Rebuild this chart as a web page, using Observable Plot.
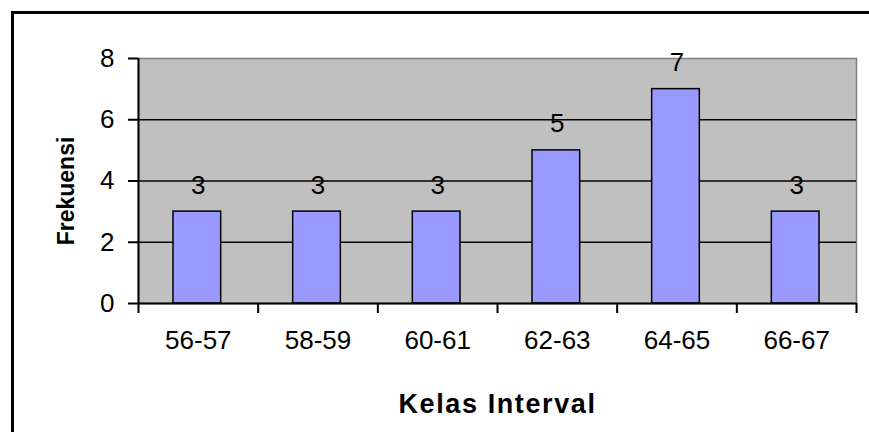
<!DOCTYPE html>
<html>
<head>
<meta charset="utf-8">
<script src="https://cdn.jsdelivr.net/npm/d3@7"></script>
<script src="https://cdn.jsdelivr.net/npm/@observablehq/plot@0.6"></script>
<style>
  html, body { margin: 0; padding: 0; background: #fff; }
  #wrap { position: relative; width: 869px; height: 432px; overflow: hidden; }
  #wrap svg { position: absolute; left: 0; top: 0; }
  #border { position: absolute; left: 11px; top: 11px; width: 900px; height: 500px;
            border-left: 3px solid #000; border-top: 3px solid #000; pointer-events: none; }
</style>
</head>
<body>
<div id="wrap"><div id="border"></div></div>
<script>
const categories = ["56-57", "58-59", "60-61", "62-63", "64-65", "66-67"];
const frequencies = [3, 3, 3, 5, 7, 3];
const yTicks = [0, 2, 4, 6, 8];
const xTitle = "Kelas Interval";
const yTitle = "Frekuensi";

const data = categories.map((c, i) => ({ label: c, i, freq: frequencies[i] }));
const boundaries = d3.range(categories.length + 1);
const font = "Liberation Sans, Arial, sans-serif";

const chart = Plot.plot({
  width: 869,
  height: 432,
  marginLeft: 138,
  marginRight: 13,
  marginTop: 58,
  marginBottom: 129,
  style: { fontFamily: font, background: "transparent", color: "#000" },
  x: { domain: [0, categories.length], axis: null },
  y: { domain: [0, 8], axis: null },
  marks: [
    Plot.frame({ fill: "#c0c0c0", stroke: "#808080", strokeWidth: 1.5 }),
    Plot.ruleY(yTicks.filter(v => v > 0 && v < 8), { stroke: "#000", strokeWidth: 1.5 }),
    Plot.rectY(data, {
      x1: d => d.i, x2: d => d.i + 1, y: "freq",
      insetLeft: 35, insetRight: 37,
      fill: "#9999ff", stroke: "#000", strokeWidth: 1.5
    }),
    Plot.ruleX([0], { stroke: "#000", strokeWidth: 2 }),
    Plot.ruleY([0], { stroke: "#000", strokeWidth: 2 }),
    Plot.axisY(yTicks, {
      anchor: "left", tickSize: 10, tickPadding: 14, strokeWidth: 2,
      fontSize: 26, label: null, color: "#000"
    }),
    Plot.axisX(boundaries, {
      anchor: "bottom", tickSize: 10, strokeWidth: 2, tickFormat: () => "", label: null
    }),
    Plot.text(data, {
      x: d => d.i + 0.5, y: 0, text: "label",
      lineAnchor: "top", dy: 27, fontSize: 26, fill: "#000"
    }),
    Plot.text(data, {
      x: d => d.i + 0.5, y: "freq", text: d => String(d.freq),
      lineAnchor: "bottom", dy: -18, fontSize: 26, fill: "#000"
    }),
    Plot.text([xTitle], {
      frameAnchor: "bottom", dy: 90, text: d => d, lineAnchor: "top",
      fontSize: 27, fontWeight: "bold", fill: "#000"
    }),
    Plot.text([yTitle], {
      frameAnchor: "left", dx: -72, dy: 10, rotate: -90, text: d => d,
      textAnchor: "middle", fontSize: 23, fontWeight: "bold", fill: "#000"
    })
  ]
});
document.getElementById("wrap").prepend(chart);
d3.select(chart).selectAll("text").filter(function () { return this.textContent === xTitle; })
  .style("letter-spacing", "1.6px");
</script>
</body>
</html>
